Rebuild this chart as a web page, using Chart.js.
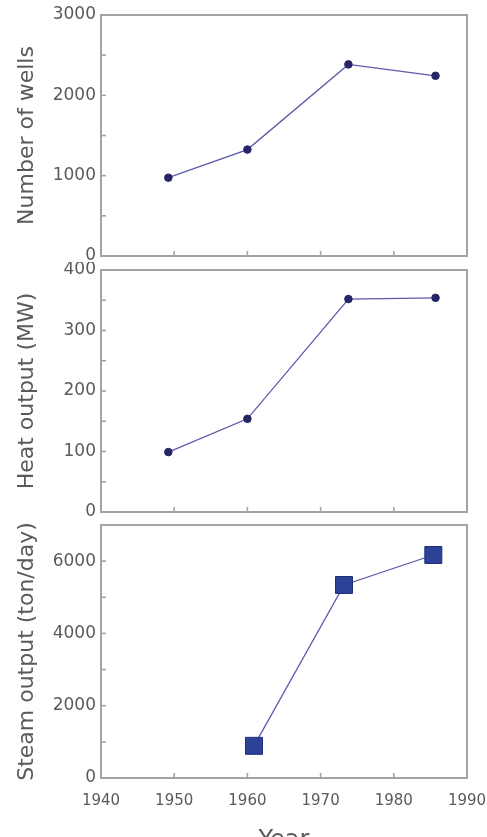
<!DOCTYPE html>
<html>
<head>
<meta charset="utf-8">
<script src="https://cdn.jsdelivr.net/npm/chart.js@4"></script>
<style>
  html, body { margin: 0; padding: 0; background: #fff; overflow: hidden; width: 487px; height: 837px; }
  .panel { position: absolute; left: 0; width: 487px; }
  #p1 { top: 0; height: 262px; }
  #p2 { top: 262px; height: 256px; }
  #p3 { top: 518px; height: 342px; }
</style>
</head>
<body>
<div class="panel" id="p1"><canvas id="c1"></canvas></div>
<div class="panel" id="p2"><canvas id="c2"></canvas></div>
<div class="panel" id="p3"><canvas id="c3"></canvas></div>
<script>
// ---- data ----
const yearsWellsHeat = [1949.2, 1960.0, 1973.8, 1985.7];
const wells = [975, 1325, 2385, 2243];
const heatMW = [99, 154, 352, 354];
const yearsSteam = [1960.9, 1973.2, 1985.4];
const steamTonDay = [890, 5340, 6170];

const xTicks = [1940, 1950, 1960, 1970, 1980, 1990];
const wellTicks = [0, 1000, 2000, 3000];
const heatTicks = [0, 100, 200, 300, 400];
const steamTicks = [0, 2000, 4000, 6000];

const titleWells = 'Number of wells';
const titleHeat = 'Heat output (MW)';
const titleSteam = 'Steam output (ton/day)';
const titleYear = 'Year';

// ---- styling ----
const FONT = '"DejaVu Sans", sans-serif';
const AREA_LEFT = 101, AREA_RIGHT = 467, W = 487;
const LINE_COLOR = '#5a5aaa';
const DOT_COLOR = '#262666';
const SQ_COLOR = '#2c4297';
const FRAME = '#a3a3a3';
const TEXT = '#5a5a5a';

const framePlugin = {
  id: 'frame',
  afterDatasetsDraw(chart, args, opts) {
    const {ctx, chartArea: a, scales} = chart;
    ctx.save();
    ctx.strokeStyle = FRAME;
    ctx.lineWidth = 1.6;
    const y = scales.y;
    const minors = opts.yMinor;
    for (let v = y.min; v <= y.max + 1e-9; v += minors) {
      const py = y.getPixelForValue(v);
      ctx.beginPath(); ctx.moveTo(a.left, py); ctx.lineTo(a.left + 5, py); ctx.stroke();
    }
    const x = scales.x;
    xTicks.slice(1, -1).forEach(v => {
      const px = x.getPixelForValue(v);
      ctx.beginPath(); ctx.moveTo(px, a.bottom); ctx.lineTo(px, a.bottom - 5); ctx.stroke();
    });
    ctx.lineWidth = 2;
    ctx.strokeRect(a.left, a.top, a.right - a.left, a.bottom - a.top);
    ctx.restore();
  }
};

function noPad(s) { s.paddingLeft = 0; s.paddingRight = 0; s.paddingTop = 0; s.paddingBottom = 0; }

function makeChart(id, xs, ys, opts) {
  const points = xs.map((x, i) => ({x, y: ys[i]}));
  return new Chart(document.getElementById(id), {
    type: 'line',
    data: {
      datasets: [{
        data: points,
        borderColor: LINE_COLOR,
        borderWidth: 1.3,
        pointStyle: opts.square ? 'rect' : 'circle',
        pointRadius: opts.square ? 12 : 3.8,
        pointBackgroundColor: opts.square ? SQ_COLOR : DOT_COLOR,
        pointBorderColor: opts.square ? '#1f2f78' : DOT_COLOR,
        pointBorderWidth: 1,
        tension: 0,
        clip: false
      }]
    },
    plugins: [framePlugin],
    options: {
      responsive: true,
      maintainAspectRatio: false,
      animation: false,
      events: [],
      layout: { autoPadding: false, padding: { left: 0, right: W - AREA_RIGHT, top: opts.top, bottom: opts.bottom } },
      plugins: { legend: { display: false }, tooltip: { enabled: false }, frame: { yMinor: opts.minor } },
      scales: {
        x: {
          type: 'linear',
          min: 1940, max: 1990,
          display: opts.showX,
          afterBuildTicks: s => { s.ticks = xTicks.map(v => ({value: v})); },
          afterFit: s => { noPad(s); if (opts.xHeight) s.height = opts.xHeight; },
          grid: { display: false, drawTicks: false },
          border: { display: false },
          ticks: { color: TEXT, font: { family: FONT, size: 15 }, padding: 14, maxRotation: 0, autoSkip: false, callback: v => String(v) },
          title: { display: opts.showX, text: titleYear, color: TEXT, font: { family: FONT, size: 24 }, padding: { top: 0, bottom: 5 } }
        },
        y: {
          type: 'linear',
          min: opts.yMin, max: opts.yMax,
          afterBuildTicks: s => { s.ticks = opts.yTicks.map(v => ({value: v})); },
          afterFit: s => { noPad(s); s.width = AREA_LEFT; },
          grid: { display: false, drawTicks: false },
          border: { display: false },
          ticks: { color: TEXT, font: { family: FONT, size: 17 }, padding: 5, callback: v => String(v) },
          title: { display: true, text: opts.title, color: TEXT, font: { family: FONT, size: 22 }, padding: { top: 14, bottom: 0 } }
        }
      }
    }
  });
}

makeChart('c1', yearsWellsHeat, wells, {
  top: 15, bottom: 6, showX: false, yMin: 0, yMax: 3000, yTicks: wellTicks, minor: 500, title: titleWells
});
makeChart('c2', yearsWellsHeat, heatMW, {
  top: 8, bottom: 6, showX: false, yMin: 0, yMax: 400, yTicks: heatTicks, minor: 50, title: titleHeat
});
makeChart('c3', yearsSteam, steamTonDay, {
  top: 7, bottom: 0, showX: true, xHeight: 82, yMin: 0, yMax: 7000, yTicks: steamTicks, minor: 1000, title: titleSteam, square: true
});
</script>
</body>
</html>
